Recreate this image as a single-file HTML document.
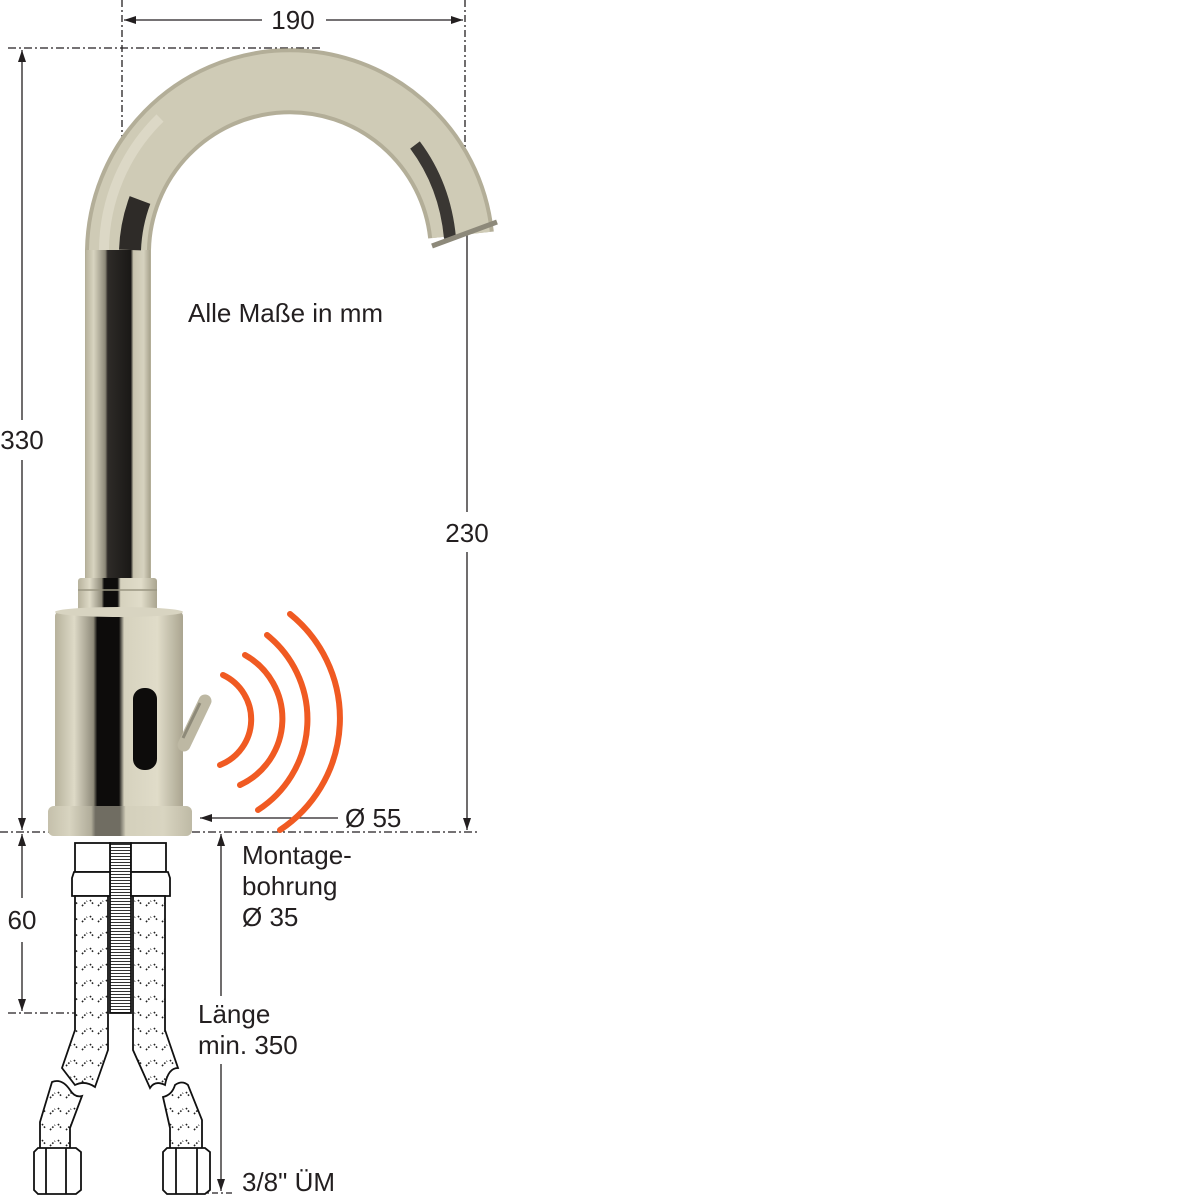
<!DOCTYPE html>
<html><head><meta charset="utf-8"><style>
html,body{margin:0;padding:0;background:#fff;}
svg{display:block;}
text{font-family:"Liberation Sans",Arial,sans-serif;fill:#231f20;}
</style></head><body>
<svg width="1200" height="1200" viewBox="0 0 1200 1200" xmlns="http://www.w3.org/2000/svg">
<defs>
<marker id="ar" viewBox="0 0 12 10" refX="12" refY="5" markerWidth="13" markerHeight="10" markerUnits="userSpaceOnUse" orient="auto-start-reverse">
<path d="M0,1 L12,5 L0,9 z" fill="#231f20"/></marker>
<linearGradient id="tube" x1="0" x2="1" y1="0" y2="0">
<stop offset="0" stop-color="#b9b49e"/><stop offset="0.12" stop-color="#d8d4c0"/><stop offset="0.3" stop-color="#8c8878"/><stop offset="0.34" stop-color="#2e2b28"/><stop offset="0.7" stop-color="#1a1816"/><stop offset="0.74" stop-color="#c8c3ae"/><stop offset="0.9" stop-color="#d6d2bf"/><stop offset="1" stop-color="#a9a48f"/></linearGradient>
<linearGradient id="body" x1="0" x2="1" y1="0" y2="0">
<stop offset="0" stop-color="#b7b29c"/><stop offset="0.15" stop-color="#dedac7"/><stop offset="0.3" stop-color="#8f8b7a"/><stop offset="0.33" stop-color="#0d0c0b"/><stop offset="0.5" stop-color="#0d0c0b"/><stop offset="0.54" stop-color="#d6d2be"/><stop offset="0.8" stop-color="#e0dcc9"/><stop offset="1" stop-color="#aaa590"/></linearGradient>
<pattern id="braid" width="16" height="16" patternUnits="userSpaceOnUse">
<rect width="16" height="16" fill="#fff"/>
<path d="M2,10 L7,5 M10,4 L14,9" stroke="#222" stroke-width="1.6" stroke-dasharray="1.6 1.6"/></pattern>
<pattern id="thread" width="10" height="3" patternUnits="userSpaceOnUse">
<rect width="10" height="3" fill="#fff"/><line x1="0" y1="1.5" x2="10" y2="1.5" stroke="#333" stroke-width="1"/></pattern>
</defs>

<g stroke="#231f20" stroke-width="1.3" fill="none">
<line x1="122" y1="0" x2="122" y2="145" stroke-dasharray="7 3 2 3"/>
<line x1="465" y1="0" x2="465" y2="150" stroke-dasharray="7 3 2 3"/>
<line x1="8" y1="48" x2="322" y2="48" stroke-dasharray="8 3 2 3"/>
<line x1="0" y1="832" x2="478" y2="832" stroke-dasharray="8 3 2 3"/>
<line x1="8" y1="1013" x2="75" y2="1013" stroke-dasharray="8 3 2 3"/>
<line x1="170" y1="1193" x2="232" y2="1193" stroke-dasharray="6 3 2 3"/>
<line x1="124" y1="20" x2="262" y2="20" marker-start="url(#ar)"/>
<line x1="326" y1="20" x2="463" y2="20" marker-end="url(#ar)"/>
<line x1="22" y1="50" x2="22" y2="420" marker-start="url(#ar)"/>
<line x1="22" y1="460" x2="22" y2="830" marker-end="url(#ar)"/>
<line x1="467" y1="217" x2="467" y2="512" marker-start="url(#ar)"/>
<line x1="467" y1="552" x2="467" y2="830" marker-end="url(#ar)"/>
<line x1="22" y1="834" x2="22" y2="898" marker-start="url(#ar)"/>
<line x1="22" y1="942" x2="22" y2="1011" marker-end="url(#ar)"/>
<line x1="221" y1="834" x2="221" y2="996" marker-start="url(#ar)"/>
<line x1="221" y1="1064" x2="221" y2="1191" marker-end="url(#ar)"/>
<line x1="338" y1="818" x2="200" y2="818" marker-end="url(#ar)"/>
</g>

<path d="M118,590 L118,250 A172,172 0 0 1 461,235" fill="none" stroke="#b3ae98" stroke-width="66"/>
<path d="M118,590 L118,250 A172,172 0 0 1 461,235" fill="none" stroke="#cfcbb6" stroke-width="58"/>
<path d="M104,520 L104,250 A186,186 0 0 1 160,118" fill="none" stroke="#dcd8c6" stroke-width="10"/>
<rect x="86" y="250" width="64" height="340" fill="url(#tube)"/>
<path d="M130,250 A160,160 0 0 1 140,200" fill="none" stroke="#2e2b28" stroke-width="22"/>
<path d="M415,145 Q445,185 450,238" fill="none" stroke="#3a3733" stroke-width="12"/>
<path d="M432,246 L497,222" stroke="#8d897a" stroke-width="5"/>

<rect x="78" y="578" width="79" height="44" rx="3" fill="url(#body)"/>
<line x1="78" y1="590" x2="157" y2="590" stroke="#9a9682" stroke-width="1.5"/>
<rect x="55" y="612" width="128" height="200" rx="4" fill="url(#body)"/>
<ellipse cx="119" cy="612" rx="64" ry="5" fill="#d8d4c1"/>
<rect x="48" y="806" width="144" height="30" rx="6" fill="#d2ceba"/>
<rect x="48" y="806" width="144" height="30" rx="6" fill="url(#body)" opacity="0.5"/>
<rect x="133" y="688" width="24" height="82" rx="11" fill="#0d0c0b"/>
<path d="M184,745 L205,701" stroke="#bdb8a3" stroke-width="13" stroke-linecap="round"/>
<path d="M183,738 L200,703" stroke="#8e8a79" stroke-width="3"/>

<g fill="none" stroke="#f05a22" stroke-width="6" stroke-linecap="round">
<path d="M223,675 A49,49 0 0 1 220,765"/>
<path d="M245,655 A73,73 0 0 1 240,785"/>
<path d="M267,635 A108,108 0 0 1 258,810"/>
<path d="M290,614 A134,134 0 0 1 280,830"/>
</g>

<g stroke="#111" stroke-width="1.8">
<rect x="110" y="843" width="21" height="170" fill="url(#thread)"/>
<rect x="75" y="843" width="35" height="29" fill="#fff"/>
<rect x="131" y="843" width="35" height="29" fill="#fff"/>
<path d="M74,872 L110,872 L110,896 L72,896 L72,878 Z" fill="#fff"/>
<path d="M131,872 L168,872 L170,878 L170,896 L131,896 Z" fill="#fff"/>
<path d="M75,896 L108,896 L108,1050 L95,1087 Q85,1080 75,1085 L62,1068 L75,1030 Z" fill="url(#braid)"/>
<path d="M133,896 L165,896 L165,1030 L178,1068 Q168,1068 165,1085 Q155,1080 150,1088 L133,1050 Z" fill="url(#braid)"/>
<path d="M52,1082 Q62,1078 70,1090 Q75,1098 82,1096 L70,1128 L70,1150 L40,1150 L40,1122 Z" fill="url(#braid)"/>
<path d="M163,1097 Q172,1095 175,1085 Q182,1080 188,1085 L202,1120 L202,1150 L170,1150 L170,1128 Z" fill="url(#braid)"/>
<path d="M34,1152 L38,1148 L76,1148 L81,1152 L81,1190 L76,1194 L38,1194 L34,1190 Z" fill="#fff"/>
<line x1="46" y1="1148" x2="46" y2="1194"/><line x1="66" y1="1148" x2="66" y2="1194"/>
<path d="M163,1152 L167,1148 L205,1148 L210,1152 L210,1190 L205,1194 L167,1194 L163,1190 Z" fill="#fff"/>
<line x1="176" y1="1148" x2="176" y2="1194"/><line x1="197" y1="1148" x2="197" y2="1194"/>
</g>

<g font-size="26">
<text x="293" y="29" text-anchor="middle">190</text>
<text x="22" y="449" text-anchor="middle">330</text>
<text x="467" y="542" text-anchor="middle">230</text>
<text x="22" y="929" text-anchor="middle">60</text>
<text x="188" y="322">Alle Maße in mm</text>
<text x="345" y="827">Ø 55</text>
<text x="242" y="864">Montage-</text>
<text x="242" y="895">bohrung</text>
<text x="242" y="926">Ø 35</text>
<text x="198" y="1023">Länge</text>
<text x="198" y="1054">min. 350</text>
<text x="242" y="1191">3/8" ÜM</text>
</g>
</svg>
</body></html>
